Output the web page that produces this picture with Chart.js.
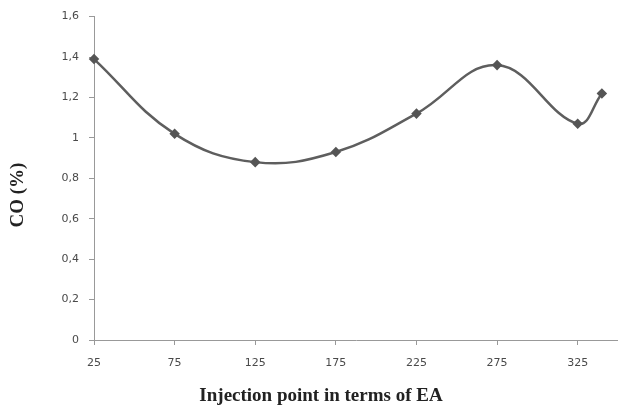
<!DOCTYPE html>
<html>
<head>
<meta charset="utf-8">
<script src="https://cdn.jsdelivr.net/npm/chart.js@4"></script>
<style>
  html, body { margin: 0; padding: 0; background: #fff; }
  #wrap { width: 618px; height: 408px; }
</style>
</head>
<body>
<div id="wrap"><canvas id="c" width="618" height="408"></canvas></div>
<script>
const injectionPoints = [25, 75, 125, 175, 225, 275, 325, 340];
const coValues = [1.39, 1.02, 0.88, 0.93, 1.12, 1.36, 1.07, 1.22];
const xTickValues = [25, 75, 125, 175, 225, 275, 325];
const yTickValues = [0, 0.2, 0.4, 0.6, 0.8, 1, 1.2, 1.4, 1.6];
const yTickLabels = ["0", "0,2", "0,4", "0,6", "0,8", "1", "1,2", "1,4", "1,6"];
const xTitle = "Injection point in terms of EA";
const yTitle = "CO (%)";

const titlesPlugin = {
  id: 'titles',
  afterDraw(chart) {
    const ctx = chart.ctx;
    ctx.save();
    ctx.fillStyle = '#222';
    ctx.font = 'bold 19px "Liberation Serif", serif';
    ctx.textAlign = 'center';
    ctx.textBaseline = 'middle';
    ctx.fillText(xTitle, 321, 396);
    ctx.translate(18, 195);
    ctx.rotate(-Math.PI / 2);
    ctx.fillText(yTitle, 0, 0);
    ctx.restore();
  }
};

new Chart(document.getElementById('c'), {
  type: 'scatter',
  data: {
    datasets: [{
      data: injectionPoints.map((x, i) => ({ x: x, y: coValues[i] })),
      showLine: true,
      tension: 0.4,
      borderColor: '#5e5e5e',
      borderWidth: 2.5,
      pointStyle: 'rectRot',
      pointRadius: 3.5,
      pointBackgroundColor: '#555',
      pointBorderColor: '#555',
      clip: false
    }]
  },
  options: {
    responsive: false,
    animation: false,
    layout: { autoPadding: false, padding: { left: 0, right: 0, top: 16, bottom: 0 } },
    plugins: { legend: { display: false }, tooltip: { enabled: false } },
    scales: {
      x: {
        type: 'linear',
        min: 25,
        max: 350,
        afterFit(s) { s.height = 68; s.paddingRight = 0; s.paddingLeft = 0; },
        afterBuildTicks(s) { s.ticks = xTickValues.map(v => ({ value: v })); },
        grid: { drawOnChartArea: false, drawTicks: true, tickLength: 5, color: '#999' },
        border: { color: '#999', width: 1 },
        ticks: {
          color: '#4a4a4a',
          font: { family: '"DejaVu Sans", Verdana, sans-serif', size: 11 },
          padding: 12,
          maxRotation: 0,
          callback: (v) => String(v)
        }
      },
      y: {
        min: 0,
        max: 1.6,
        afterFit(s) { s.width = 94; },
        afterBuildTicks(s) { s.ticks = yTickValues.map(v => ({ value: v })); },
        grid: { drawOnChartArea: false, drawTicks: true, tickLength: 5, color: '#999' },
        border: { color: '#999', width: 1 },
        ticks: {
          color: '#4a4a4a',
          font: { family: '"DejaVu Sans", Verdana, sans-serif', size: 11 },
          padding: 10,
          callback: (v) => {
            const i = yTickValues.findIndex(t => Math.abs(t - v) < 1e-9);
            return i >= 0 ? yTickLabels[i] : '';
          }
        }
      }
    }
  },
  plugins: [titlesPlugin]
});
</script>
</body>
</html>
